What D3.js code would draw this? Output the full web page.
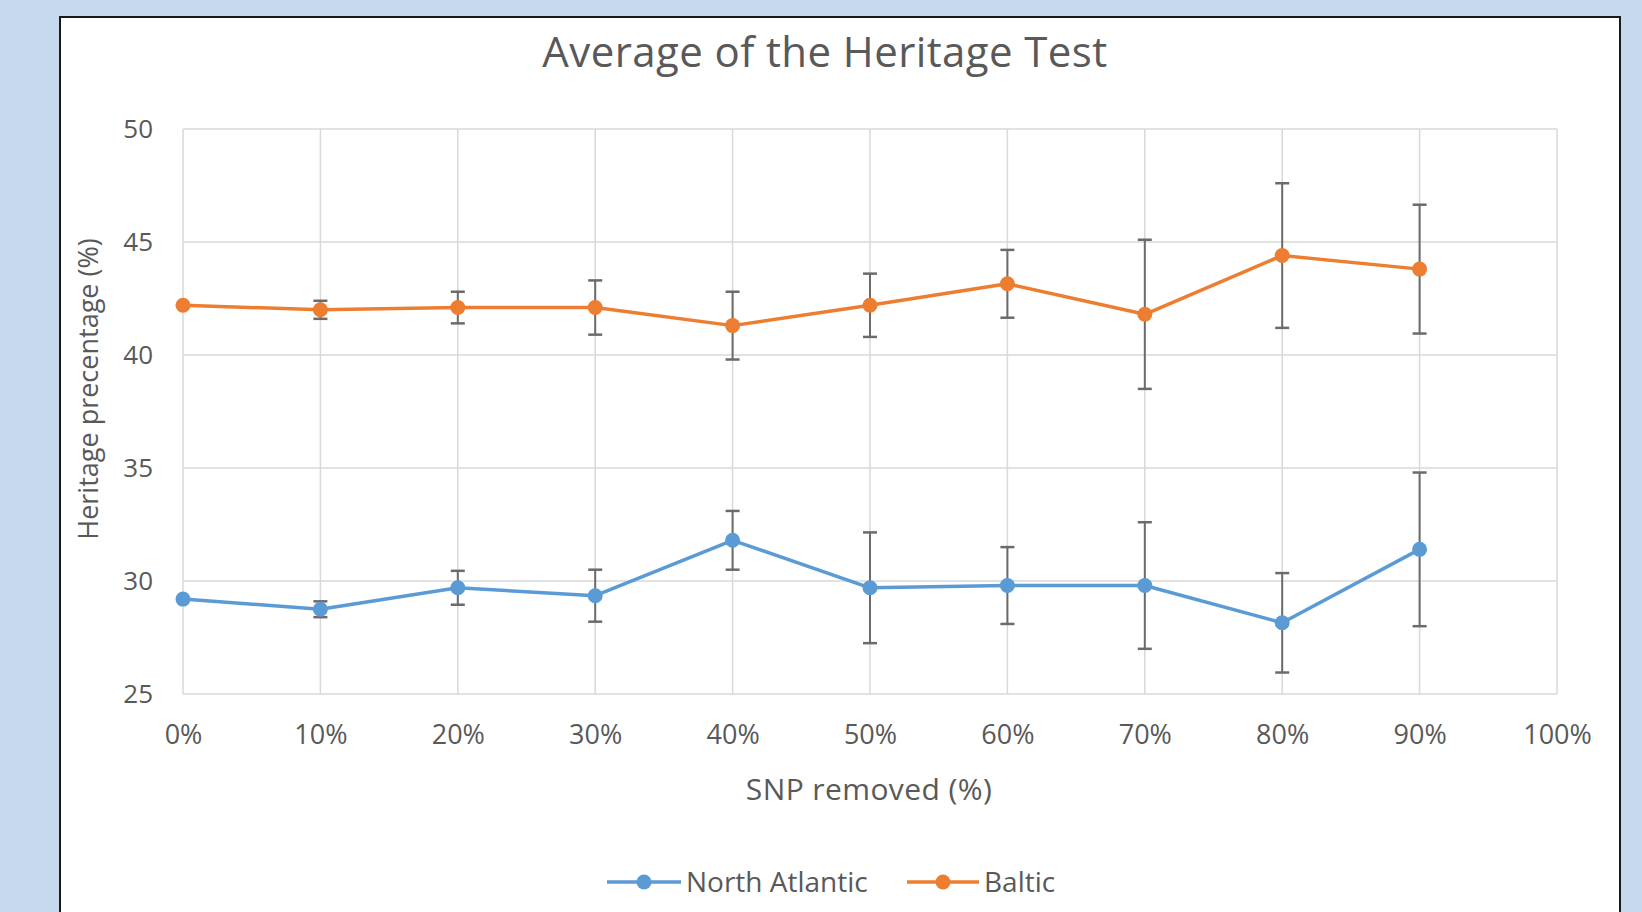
<!DOCTYPE html>
<html><head><meta charset="utf-8">
<script src="https://cdn.jsdelivr.net/npm/d3@7"></script>
<style>
html,body{margin:0;padding:0;background:#c6d9ef;}
svg{display:block;}
</style></head>
<body>
<svg id="chart" width="1642" height="912"></svg>
<script>
const categories = ["0%","10%","20%","30%","40%","50%","60%","70%","80%","90%"];
const xTickLabels = ["0%","10%","20%","30%","40%","50%","60%","70%","80%","90%","100%"];
const yTicks = [25,30,35,40,45,50];
const northAtlantic = [29.2,28.75,29.7,29.35,31.8,29.7,29.8,29.8,28.15,31.4];
const northAtlanticErr = [0,0.35,0.75,1.15,1.3,2.45,1.7,2.8,2.2,3.4];
const baltic = [42.2,42.0,42.1,42.1,41.3,42.2,43.15,41.8,44.4,43.8];
const balticErr = [0,0.4,0.7,1.2,1.5,1.4,1.5,3.3,3.2,2.85];
const seriesNames = ["North Atlantic","Baltic"];
const seriesColors = ["#5b9bd5","#ed7d31"];

const svg = d3.select("#chart");
const font = "'Open Sans', sans-serif";
const textColor = "#595959";

// white panel
svg.append("rect").attr("x",60).attr("y",17).attr("width",1560).attr("height",920)
  .attr("fill","#fff").attr("stroke","#1a1a1a").attr("stroke-width",2);

const x = d3.scalePoint().domain(xTickLabels).range([183,1557]);
const y = d3.scaleLinear().domain([25,50]).range([694,129]);

const g = svg.append("g");
// grid
g.append("g").selectAll("line").data(yTicks).join("line")
  .attr("x1",x.range()[0]).attr("x2",x.range()[1])
  .attr("y1",d=>y(d)).attr("y2",d=>y(d))
  .attr("stroke","#d9d9d9").attr("stroke-width",1.5);
g.append("g").selectAll("line").data(xTickLabels).join("line")
  .attr("x1",d=>x(d)).attr("x2",d=>x(d))
  .attr("y1",y(50)).attr("y2",y(25))
  .attr("stroke","#d9d9d9").attr("stroke-width",1.5);

// axes labels via d3 axes
const yAxis = d3.axisLeft(y).tickValues(yTicks).tickSize(0).tickPadding(0);
const ya = svg.append("g").attr("transform","translate(153,0)").call(yAxis);
ya.select(".domain").remove();
ya.selectAll("text").attr("font-family",font).attr("font-size",26).attr("fill",textColor);

const xAxis = d3.axisBottom(x).tickSize(0).tickPadding(0);
const xa = svg.append("g").attr("transform","translate(0,725)").call(xAxis);
xa.select(".domain").remove();
xa.selectAll("text").attr("font-family",font).attr("font-size",27).attr("fill",textColor);

// titles
svg.append("text").attr("x",825).attr("y",67).attr("text-anchor","middle")
  .attr("font-family",font).attr("font-size",42).attr("letter-spacing",0.4).attr("fill",textColor)
  .text("Average of the Heritage Test");
svg.append("text").attr("x",869).attr("y",800).attr("text-anchor","middle")
  .attr("font-family",font).attr("font-size",30).attr("letter-spacing",0.4).attr("fill",textColor)
  .text("SNP removed (%)");
svg.append("text").attr("transform","translate(98,389) rotate(-90)").attr("text-anchor","middle")
  .attr("font-family",font).attr("font-size",27).attr("fill",textColor)
  .text("Heritage precentage (%)");

// series
const data = [
  {name:seriesNames[0], color:seriesColors[0], vals:northAtlantic, err:northAtlanticErr},
  {name:seriesNames[1], color:seriesColors[1], vals:baltic, err:balticErr}
];
const line = d3.line().x((d,i)=>x(categories[i])).y(d=>y(d));
data.forEach(s=>{
  const sg = svg.append("g");
  sg.append("path").attr("d",line(s.vals)).attr("fill","none")
    .attr("stroke",s.color).attr("stroke-width",3.5).attr("stroke-linejoin","round");
  const eb = sg.append("g");
  s.vals.forEach((v,i)=>{
    const e = s.err[i];
    if(!e) return;
    const cx = x(categories[i]);
    eb.append("line").attr("x1",cx).attr("x2",cx).attr("y1",y(v+e)).attr("y2",y(v-e))
      .attr("stroke","#6b6b6b").attr("stroke-width",2);
    [v+e,v-e].forEach(t=>eb.append("line").attr("x1",cx-7).attr("x2",cx+7).attr("y1",y(t)).attr("y2",y(t))
      .attr("stroke","#6b6b6b").attr("stroke-width",2.5));
  });
  sg.selectAll("circle").data(s.vals).join("circle")
    .attr("cx",(d,i)=>x(categories[i])).attr("cy",d=>y(d)).attr("r",7.5).attr("fill",s.color);
});

// legend
const legendItems = [{x1:607,x2:681,tx:686},{x1:907,x2:979,tx:984}];
data.forEach((s,i)=>{
  const L = legendItems[i];
  svg.append("line").attr("x1",L.x1).attr("x2",L.x2).attr("y1",882).attr("y2",882)
    .attr("stroke",s.color).attr("stroke-width",3.5);
  svg.append("circle").attr("cx",(L.x1+L.x2)/2).attr("cy",882).attr("r",7.5).attr("fill",s.color);
  svg.append("text").attr("x",L.tx).attr("y",892).attr("font-family",font).attr("font-size",28)
    .attr("fill",textColor).text(s.name);
});
</script>
</body></html>
